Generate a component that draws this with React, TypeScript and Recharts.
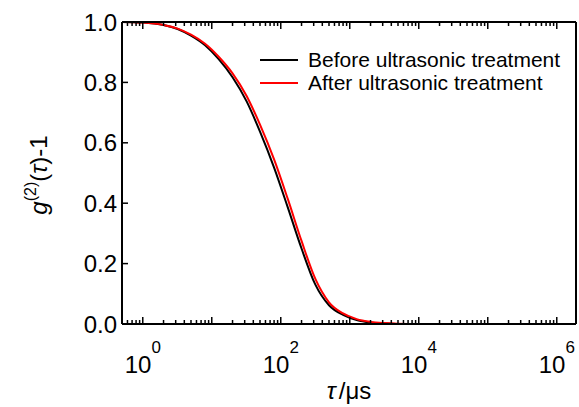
import React from "react";
import { LineChart, Line, XAxis, YAxis, Legend } from "recharts";

// correlation time in µs
const tau = [0.5, 1, 2, 3.2, 5, 8, 12.6, 20, 32, 50, 80, 126, 200, 316, 500, 800, 1260, 2000, 3160, 5000, 10000, 100000, 1000000, 1900000];
const before = [1.0, 0.998, 0.99, 0.977, 0.955, 0.923, 0.877, 0.817, 0.737, 0.637, 0.518, 0.387, 0.25, 0.131, 0.062, 0.03, 0.013, 0.005, 0.002, 0, 0, 0, 0, 0];
const after = [1.0, 0.998, 0.99, 0.978, 0.958, 0.928, 0.885, 0.83, 0.755, 0.66, 0.545, 0.415, 0.275, 0.15, 0.072, 0.035, 0.016, 0.007, 0.003, 0.001, 0, 0, 0, 0];

const decades = [1, 10, 100, 1000, 10000, 100000, 1000000];
const mantissas = [2, 3, 4, 5, 6, 7, 8, 9];
const yTicks = [0, 0.2, 0.4, 0.6, 0.8, 1.0];

const minorTicks = [0.6, 0.7, 0.8, 0.9, ...decades.flatMap((d) => mantissas.map((m) => m * d))].filter((v) => v < 1900000);
const xTicks = [...minorTicks, ...decades].sort((a, b) => a - b);

const data = tau.map((t, i) => ({ tau: t, before: before[i], after: after[i] }));

const FONT = "'Liberation Sans', Arial, sans-serif";

const XTick = (props: any) => {
  const { x, y, payload, side } = props;
  const lg = Math.log10(payload.value);
  const exp = Math.round(lg);
  const major = Math.abs(lg - exp) < 1e-6;
  const len = major ? 7 : 4;
  const dir = side === "top" ? 1 : -1;
  return (
    <g>
      <line x1={x} x2={x} y1={y} y2={y + dir * len} stroke="#000" strokeWidth={1.5} />
      {side === "bottom" && major && exp % 2 === 0 && (
        <text x={x} y={y + 49} textAnchor="middle" fontSize={24} fill="#000" fontFamily={FONT}>
          10<tspan dy={-20} fontSize={17}>{exp}</tspan>
        </text>
      )}
    </g>
  );
};

const XTitle = (props: any) => {
  const vb = props.viewBox;
  return (
    <text x={vb.x + vb.width / 2} y={vb.y + 75} textAnchor="middle" fontSize={24} fill="#000" fontFamily={FONT}>
      <tspan fontStyle="italic">τ</tspan>
      <tspan dx={3}>/μs</tspan>
    </text>
  );
};

const YTitle = (props: any) => {
  const vb = props.viewBox;
  const cx = 47;
  const cy = vb.y + vb.height / 2 + 2;
  return (
    <text x={cx} y={cy} transform={`rotate(-90, ${cx}, ${cy})`} textAnchor="middle" fontSize={24} fill="#000" fontFamily={FONT}>
      <tspan fontStyle="italic">g</tspan>
      <tspan dy={-11} fontSize={16}>(2)</tspan>
      <tspan dy={11}>(</tspan>
      <tspan fontStyle="italic">τ</tspan>
      <tspan>)-1</tspan>
    </text>
  );
};

const LegendBox = () => {
  const rows = [
    { name: "Before ultrasonic treatment", color: "#000" },
    { name: "After ultrasonic treatment", color: "#f00" },
  ];
  return (
    <div style={{ fontFamily: FONT, fontSize: 21, color: "#000" }}>
      {rows.map((r) => (
        <div key={r.name} style={{ display: "flex", alignItems: "center", height: 23, whiteSpace: "nowrap" }}>
          <svg width={38} height={4} style={{ marginRight: 10 }}>
            <line x1={0} x2={38} y1={2} y2={2} stroke={r.color} strokeWidth={2} />
          </svg>
          <span>{r.name}</span>
        </div>
      ))}
    </div>
  );
};

export default function App() {
  return (
    <div style={{ position: "absolute", left: 0, top: 0, fontFamily: FONT, background: "#fff" }}>
      <LineChart width={579} height={407} data={data} margin={{ top: 21, right: 2, bottom: 0, left: 0 }}>
        <XAxis
          dataKey="tau"
          type="number"
          scale="log"
          domain={[0.5, 1900000]}
          allowDataOverflow
          ticks={xTicks}
          interval={0}
          height={83}
          tickSize={0}
          tickMargin={0}
          tickLine={false}
          axisLine={{ stroke: "#000", strokeWidth: 2 }}
          tick={<XTick side="bottom" />}
          label={<XTitle />}
        />
        <XAxis
          xAxisId="top"
          orientation="top"
          dataKey="tau"
          type="number"
          scale="log"
          domain={[0.5, 1900000]}
          allowDataOverflow
          ticks={xTicks}
          interval={0}
          height={1}
          tickSize={0}
          tickMargin={0}
          tickLine={false}
          axisLine={{ stroke: "#000", strokeWidth: 2 }}
          tick={<XTick side="top" />}
        />
        <YAxis
          type="number"
          domain={[0, 1]}
          ticks={yTicks}
          interval={0}
          width={122}
          tickSize={-6}
          tickMargin={11}
          tickFormatter={(v: number) => v.toFixed(1)}
          tick={{ fontSize: 24, fill: "#000", fontFamily: FONT }}
          tickLine={{ stroke: "#000", strokeWidth: 1.5 }}
          axisLine={{ stroke: "#000", strokeWidth: 2 }}
          label={<YTitle />}
        />
        <YAxis
          yAxisId="r"
          orientation="right"
          type="number"
          domain={[0, 1]}
          ticks={yTicks}
          interval={0}
          width={1}
          tickSize={-6}
          tick={false}
          tickLine={{ stroke: "#000", strokeWidth: 1.5 }}
          axisLine={{ stroke: "#000", strokeWidth: 2 }}
        />
        <Legend
          layout="vertical"
          align="center"
          verticalAlign="middle"
          wrapperStyle={{ top: 48, left: 260, width: 318 }}
          content={() => <LegendBox />}
        />
        <Line type="monotone" dataKey="before" stroke="#000" strokeWidth={2} dot={false} isAnimationActive={false} />
        <Line type="monotone" dataKey="after" stroke="#f00" strokeWidth={2} dot={false} isAnimationActive={false} />
      </LineChart>
    </div>
  );
}
